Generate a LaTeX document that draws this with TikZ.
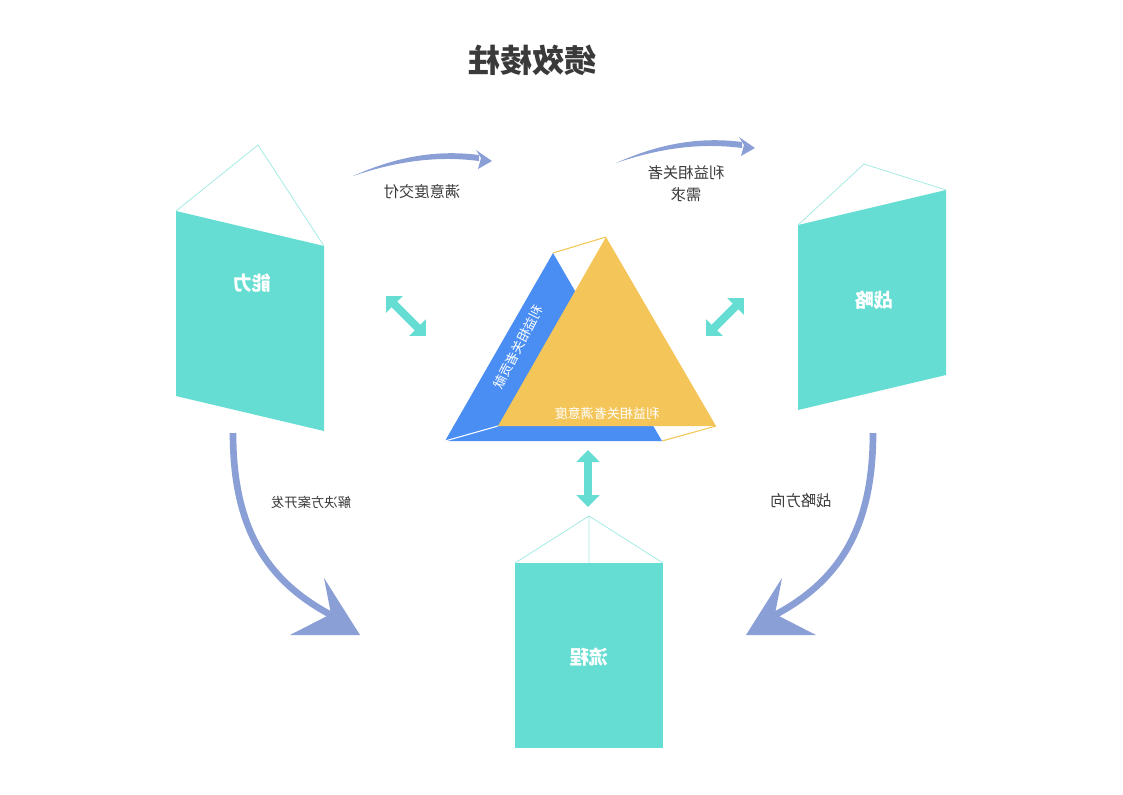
\documentclass[tikz,border=0pt]{standalone}
\usepackage{fontspec}
\setmainfont{Noto Sans CJK SC}
\usepackage{tikz}
\usetikzlibrary{arrows.meta}

\definecolor{verdeagua}{HTML}{65DDD2}
\definecolor{lineaclara}{HTML}{A6EAE4}
\definecolor{azulcara}{HTML}{4A8EF4}
\definecolor{amarillo}{HTML}{F4C65A}
\definecolor{lila}{HTML}{8A9FD6}
\definecolor{texto}{HTML}{3A3A3A}

\tikzset{
  espejo/.style={xscale=-1},
  caja/.style={fill=verdeagua},
  pliegue/.style={draw=lineaclara, line width=0.6pt},
  etiqueta/.style={espejo, text=white, font=\bfseries\fontsize{14.5}{16}\selectfont},
  nota/.style={espejo, text=texto, font=\fontsize{11.5}{16.5}\selectfont, align=center},
  dobleflecha/.style={verdeagua, line width=6pt,
    {Triangle[width=17pt,length=9pt]}-{Triangle[width=17pt,length=9pt]}}
}

\begin{document}
\begin{tikzpicture}[x=0.75pt, y=-0.75pt]

\useasboundingbox (0,0) rectangle (1123,794);

\node[espejo, text=texto, font=\bfseries\fontsize{24}{28}\selectfont] (titulo) at (532,60) {绩效棱柱};

% flechas grandes
\draw[lila, line width=5pt] (233,433) .. controls (233,530) and (268,582) .. (333,616);
\fill[lila] (360,635) -- (324,578) -- (331,614) -- (290,635) -- cycle;
\draw[lila, line width=5pt] (873,433) .. controls (873,530) and (838,582) .. (773,616);
\fill[lila] (746,635) -- (782,578) -- (775,614) -- (816,635) -- cycle;

% flechas de arriba
\fill[lila] (353,176) .. controls (400,155) and (440,150) .. (479,155) -- (479,161)
  .. controls (440,156) and (400,160) .. (353,176) -- cycle;
\fill[lila] (492,161) -- (476,150) -- (481,158) -- (478,169) -- cycle;
\begin{scope}[shift={(263,-13)}]
\fill[lila] (353,176) .. controls (400,155) and (440,150) .. (479,155) -- (479,161)
  .. controls (440,156) and (400,160) .. (353,176) -- cycle;
\fill[lila] (492,161) -- (476,150) -- (481,158) -- (478,169) -- cycle;
\end{scope}

% cara izquierda
\fill[caja] (176,211) -- (324,246) -- (324,431) -- (176,396) -- cycle;
\draw[pliegue] (176,211) -- (258,145) -- (324,246);
\node[etiqueta] (capacidad) at (252,283) {能力};

% cara derecha
\fill[caja] (798,225) -- (946,190) -- (946,375) -- (798,410) -- cycle;
\draw[pliegue] (798,225) -- (864,164) -- (946,190);
\node[etiqueta] (estrategia) at (874,300) {战略};

% cara de abajo
\fill[caja] (515,563) rectangle (663,748);
\draw[pliegue] (515,563) -- (589,516) -- (663,563) (589,516) -- (589,563);
\node[etiqueta] (proceso) at (589,657) {流程};

% prisma del centro
\fill[azulcara] (445,441) -- (553,253) -- (662,441) -- cycle;
\draw[amarillo, line width=0.8pt] (553,253) -- (606,237) (662,441) -- (716,426);
\draw[white, line width=0.8pt] (445,441) -- (498,426);
\fill[amarillo] (498,426) -- (606,237) -- (716,426) -- cycle;
\node[espejo, rotate=-63, text=white, font=\fontsize{9.8}{12}\selectfont] (aporte) at (518,347) {利益相关者贡献};
\node[espejo, text=white, font=\fontsize{9.8}{12}\selectfont] (satisfaccion) at (607,413) {利益相关者满意度};

% flechas dobles
\coordinate (i1) at (386,296); \coordinate (i2) at (426,336);
\coordinate (d1) at (744,298); \coordinate (d2) at (706,336);
\coordinate (b1) at (588,450); \coordinate (b2) at (588,507);
\draw[dobleflecha] (i1) -- (i2);
\draw[dobleflecha] (d1) -- (d2);
\draw[dobleflecha] (b1) -- (b2);

\node[nota] (entrega) at (422,192) {满意度交付};
\node[nota] (demanda) at (686,184) {利益相关者\\需求};
\node[nota, font=\fontsize{10}{12}\selectfont] (solucion) at (311,502) {解决方案开发};
\node[nota] (rumbo) at (801,501) {战略方向};

\end{tikzpicture}
\end{document}
